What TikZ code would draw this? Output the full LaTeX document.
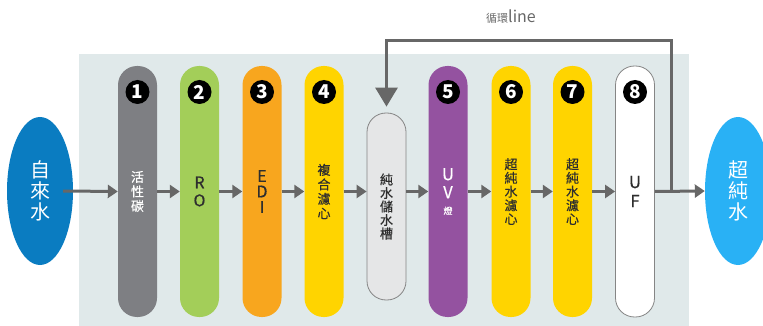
\documentclass[tikz,border=0pt]{standalone}
\usepackage{fontspec}
\newfontfamily\cjk{Noto Sans CJK TC}
\newfontfamily\cjkb{Noto Sans CJK TC}[FakeBold=0.6]
\usetikzlibrary{arrows.meta,shapes.geometric}
\definecolor{panel}{HTML}{E0E9EA}
\definecolor{srcblue}{HTML}{0A7CC1}
\definecolor{outblue}{HTML}{29B1F5}
\definecolor{pgray}{HTML}{7E7F83}
\definecolor{pgreen}{HTML}{A3CE59}
\definecolor{porange}{HTML}{F8A61E}
\definecolor{pyellow}{HTML}{FFD400}
\definecolor{ppurple}{HTML}{9452A0}
\definecolor{tankfill}{HTML}{E5E6E7}
\definecolor{edge}{HTML}{858585}
\definecolor{arr}{HTML}{676767}
\definecolor{darktext}{HTML}{2E2E2E}
\tikzset{
  pill/.style={rectangle, rounded corners=19pt, minimum width=39pt, minimum height=251pt, inner sep=0pt, align=center, font=\cjkb\fontsize{13}{14.5}\selectfont, text=darktext},
  numdot/.style={circle, fill=black, minimum size=24pt, inner sep=0pt, text=white, font=\cjk\bfseries\fontsize{19}{19}\selectfont},
  flow/.style={draw=arr, line width=3pt, -{Triangle[length=10pt,width=13pt]}},
  endball/.style={ellipse, minimum width=66pt, minimum height=148pt, inner sep=0pt, text=white, align=center, font=\cjk\fontsize{20}{21}\selectfont}
}
\begin{document}
\begin{tikzpicture}[x=1pt,y=-1pt]
\useasboundingbox (0,0) rectangle (763,326);
\clip (0,0) rectangle (763,326);
\fill[panel] (79,54) rectangle (689,326);

\node[endball, fill=srcblue] (src) at (40,191) {自\\來\\水};
\node[endball, fill=outblue] (out) at (738,191) {超\\純\\水};

\node[pill, fill=pgray, text=white] (p1) at (137.5,191.5) {活\\性\\碳};
\node[pill, fill=pgreen, font=\cjkb\fontsize{16}{18}\selectfont] (p2) at (199.5,191.5) {R\\O};
\node[pill, fill=porange, font=\cjkb\fontsize{16}{15.5}\selectfont] (p3) at (262,191.5) {E\\D\\I};
\node[pill, fill=pyellow] (p4) at (324,191.5) {複\\合\\濾\\心};
\node[pill, fill=tankfill, draw=edge, line width=0.8pt, minimum height=187pt, font=\cjkb\fontsize{13}{13.5}\selectfont] (tank) at (386.5,206.5) {純\\水\\儲\\水\\槽};
\node[pill, fill=ppurple, text=white, font=\cjkb\fontsize{16.5}{18}\selectfont] (p5) at (448,191.5) {U\\V\\[-2pt]{\fontsize{9}{10}\selectfont 燈}};
\node[pill, fill=pyellow, font=\cjkb\fontsize{13}{13.7}\selectfont] (p6) at (511,191.5) {超\\純\\水\\濾\\心};
\node[pill, fill=pyellow, font=\cjkb\fontsize{13}{13.7}\selectfont] (p7) at (572.5,191.5) {超\\純\\水\\濾\\心};
\node[pill, fill=white, draw=edge, line width=0.8pt, font=\cjkb\fontsize{16.5}{19}\selectfont] (p8) at (635,191.5) {U\\F};

\node[numdot] (n1) at (137.5,92) {1};
\node[numdot] (n2) at (199.5,92) {2};
\node[numdot] (n3) at (262,92) {3};
\node[numdot] (n4) at (324,92) {4};
\node[numdot] (n5) at (448,92) {5};
\node[numdot] (n6) at (511,92) {6};
\node[numdot] (n7) at (572.5,92) {7};
\node[numdot] (n8) at (635,92) {8};

\draw[flow] ([xshift=-10pt]src.east) -- (p1.west);
\draw[flow] (p1.east) -- (p2.west);
\draw[flow] (p2.east) -- (p3.west);
\draw[flow] (p3.east) -- (p4.west);
\draw[flow] (p4.east) -- (tank.west |- p4.east);
\draw[flow] (tank.east |- p5.west) -- (p5.west);
\draw[flow] (p5.east) -- (p6.west);
\draw[flow] (p6.east) -- (p7.west);
\draw[flow] (p7.east) -- (p8.west);
\draw[flow] (p8.east) -- (out.west);

\coordinate (split) at (671,191.5);
\coordinate (top) at (671,41);
\draw[draw=arr, line width=3pt, shorten >=6pt, -{Triangle[length=19pt,width=22pt]}] (split) -- (top) -| (tank.north);

\node[text=arr, font=\cjk\fontsize{16}{16}\selectfont, anchor=base] (lbl) at (511,23) {{\fontsize{11}{11}\selectfont 循環}line};
\end{tikzpicture}
\end{document}
